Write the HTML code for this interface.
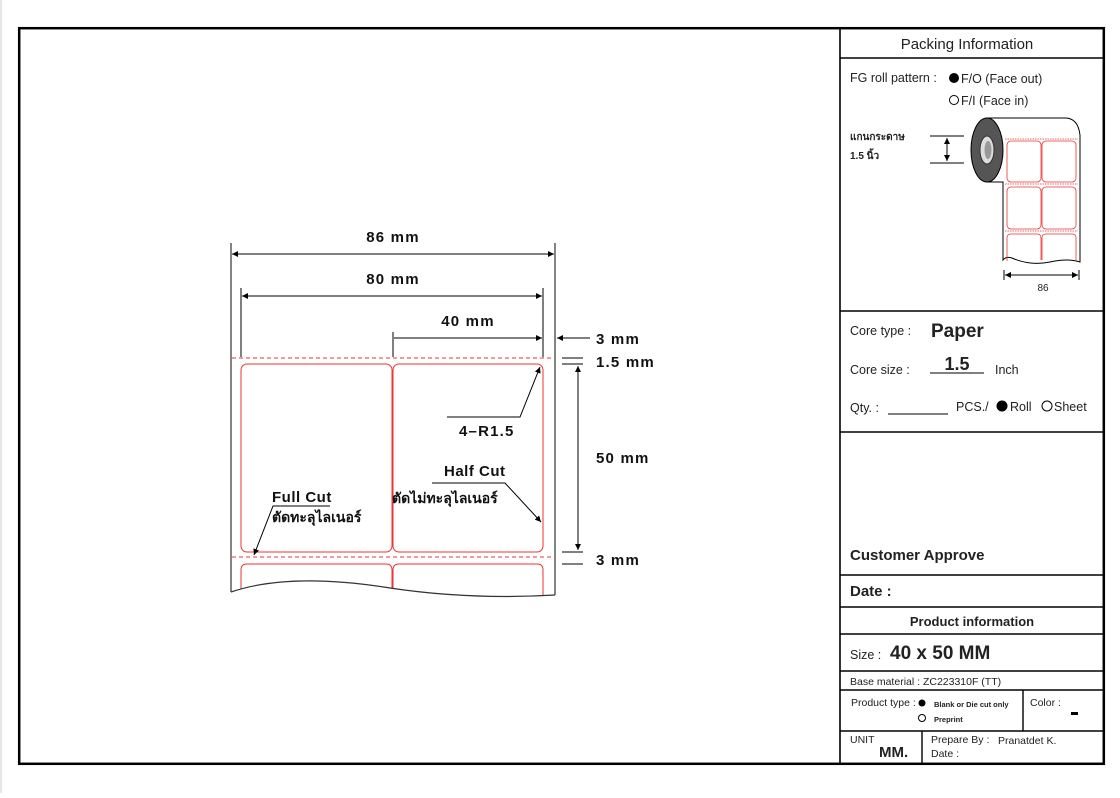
<!DOCTYPE html>
<html><head><meta charset="utf-8"><style>
html,body{margin:0;padding:0;background:#fff;}
body{width:1120px;height:793px;overflow:hidden;position:relative;font-family:"Liberation Sans","Noto Sans CJK SC",sans-serif;}
svg text{font-family:"Liberation Sans","Noto Sans CJK SC",sans-serif;}
</style></head><body>
<svg width="1120" height="793" viewBox="0 0 1120 793" xmlns="http://www.w3.org/2000/svg">
<defs>
<marker id="a" viewBox="0 0 10 10" refX="10" refY="5" markerWidth="8" markerHeight="6" orient="auto-start-reverse" markerUnits="userSpaceOnUse"><path d="M0,0 L10,5 L0,10 z" fill="#000"/></marker>
</defs>
<line x1="1" y1="0" x2="1" y2="793" stroke="#ccc" stroke-width="1"/>
<rect x="19.2" y="28.2" width="1084.6" height="735.6" fill="none" stroke="#000" stroke-width="2.5"/>
<line x1="840" y1="28" x2="840" y2="764" stroke="#000" stroke-width="1.6"/>
<g stroke="#000" stroke-width="1.4">
<line x1="840" y1="58" x2="1104" y2="58"/>
<line x1="840" y1="311" x2="1104" y2="311"/>
<line x1="840" y1="432" x2="1104" y2="432"/>
<line x1="840" y1="575" x2="1104" y2="575"/>
<line x1="840" y1="607" x2="1104" y2="607"/>
<line x1="840" y1="634" x2="1104" y2="634"/>
<line x1="840" y1="671" x2="1104" y2="671"/>
<line x1="840" y1="690" x2="1104" y2="690"/>
<line x1="840" y1="731" x2="1104" y2="731"/>
<line x1="1023" y1="690" x2="1023" y2="731"/>
<line x1="922" y1="731" x2="922" y2="764"/>
</g>
<text x="967" y="49" font-size="15" text-anchor="middle" fill="#222">Packing Information</text>
<text x="850" y="82" font-size="12.5" fill="#222">FG roll pattern :</text>
<circle cx="954" cy="78" r="5" fill="#000"/>
<text x="961" y="83" font-size="12.5" fill="#222">F/O (Face out)</text>
<circle cx="954" cy="100" r="4.5" fill="none" stroke="#000" stroke-width="1"/>
<text x="961" y="105" font-size="12.5" fill="#222">F/I (Face in)</text>
<text x="850" y="140" font-size="10" font-weight="bold" fill="#222">แกนกระดาษ</text>
<text x="850" y="159" font-size="10" font-weight="bold" fill="#222">1.5 นิ้ว</text>
<line x1="930" y1="136" x2="964" y2="136" stroke="#000"/>
<line x1="930" y1="163" x2="964" y2="163" stroke="#000"/>
<line x1="947" y1="138" x2="947" y2="161" stroke="#000" marker-start="url(#a)" marker-end="url(#a)"/>
<path d="M987,118 L1065,118 Q1078,118 1080,135 L1080,262 Q1068,258 1050,262 Q1030,266 1012,258 Q1006,256 1003,260 L1003,182 L987,182 Z" fill="#fff" stroke="#000" stroke-width="1"/>
<ellipse cx="987" cy="150" rx="16" ry="32" fill="#555" stroke="#000"/>
<ellipse cx="987" cy="150" rx="7" ry="14" fill="#ddd" stroke="#333"/>
<ellipse cx="988" cy="150" rx="3.5" ry="9" fill="#999"/>
<g stroke="#e33" fill="none" stroke-width="0.8">
<line x1="1005" y1="139" x2="1078" y2="139" stroke-dasharray="1.5,1"/>
<line x1="1005" y1="184" x2="1078" y2="184" stroke-dasharray="1.5,1"/>
<line x1="1005" y1="231" x2="1078" y2="231" stroke-dasharray="1.5,1"/>
<rect x="1007" y="141" width="34" height="41" rx="4"/>
<rect x="1042" y="141" width="34" height="41" rx="4"/>
<rect x="1007" y="187" width="34" height="42" rx="4"/>
<rect x="1042" y="187" width="34" height="42" rx="4"/>
<path d="M1007,261 L1007,238 Q1007,234 1011,234 L1037,234 Q1041,234 1041,238 L1041,260"/>
<path d="M1042,260 L1042,238 Q1042,234 1046,234 L1072,234 Q1076,234 1076,238 L1076,261"/>
</g>
<line x1="1004" y1="270" x2="1004" y2="280" stroke="#000"/>
<line x1="1079" y1="270" x2="1079" y2="280" stroke="#000"/>
<line x1="1005" y1="275" x2="1078" y2="275" stroke="#000" marker-start="url(#a)" marker-end="url(#a)"/>
<text x="1043" y="291" font-size="10" text-anchor="middle" fill="#222">86</text>

<text x="850" y="335" font-size="12.5" fill="#222">Core type :</text>
<text x="931" y="337" font-size="19" font-weight="bold" fill="#222">Paper</text>
<text x="850" y="374" font-size="12.5" fill="#222">Core size :</text>
<text x="957" y="370" font-size="18" font-weight="bold" text-anchor="middle" fill="#222">1.5</text>
<line x1="930" y1="373" x2="984" y2="373" stroke="#000"/>
<text x="995" y="374" font-size="12.5" fill="#222">Inch</text>
<text x="850" y="412" font-size="12.5" fill="#222">Qty. :</text>
<line x1="888" y1="414" x2="948" y2="414" stroke="#000"/>
<text x="956" y="411" font-size="12.5" fill="#222">PCS./</text>
<circle cx="1002" cy="406" r="5.5" fill="#000"/>
<text x="1010" y="411" font-size="12.5" fill="#222">Roll</text>
<circle cx="1047" cy="406" r="5" fill="none" stroke="#000"/>
<text x="1054" y="411" font-size="12.5" fill="#222">Sheet</text>

<text x="850" y="560" font-size="15" font-weight="bold" fill="#222">Customer Approve</text>
<text x="850" y="596" font-size="15" font-weight="bold" fill="#222">Date :</text>
<text x="972" y="626" font-size="13" font-weight="bold" text-anchor="middle" fill="#222">Product information</text>
<text x="850" y="659" font-size="12.5" fill="#222">Size :</text>
<text x="890" y="659" font-size="19" font-weight="bold" fill="#222">40 x 50 MM</text>
<text x="850" y="685" font-size="10.5" fill="#222">Base material : ZC223310F (TT)</text>
<text x="851" y="706" font-size="10.5" fill="#222">Product type :</text>
<circle cx="922" cy="703" r="3.5" fill="#000"/>
<text x="934" y="707" font-size="7.5" font-weight="bold" fill="#222">Blank or Die cut only</text>
<circle cx="922" cy="718" r="3.5" fill="none" stroke="#000"/>
<text x="934" y="722" font-size="7.5" font-weight="bold" fill="#222">Preprint</text>
<text x="1030" y="706" font-size="10.5" fill="#222">Color :</text>
<rect x="1071" y="712" width="7" height="3" fill="#000"/>
<text x="850" y="743" font-size="10.5" fill="#222">UNIT</text>
<text x="879" y="757" font-size="15" font-weight="bold" fill="#222">MM.</text>
<text x="931" y="743" font-size="10.5" fill="#222">Prepare By :</text>
<text x="998" y="744" font-size="10.5" fill="#222">Pranatdet K.</text>
<text x="931" y="757" font-size="10.5" fill="#222">Date :</text>

<g stroke="#666" stroke-width="1.6">
<line x1="231" y1="243" x2="231" y2="592"/>
<line x1="555" y1="243" x2="555" y2="595"/>
</g>
<g stroke="#000" stroke-width="1">
<line x1="241" y1="288" x2="241" y2="357"/>
<line x1="543" y1="288" x2="543" y2="357"/>
<line x1="393" y1="332" x2="393" y2="357"/>
<line x1="232" y1="254" x2="554" y2="254" marker-start="url(#a)" marker-end="url(#a)"/>
<line x1="242" y1="296" x2="542" y2="296" marker-start="url(#a)" marker-end="url(#a)"/>
<line x1="394" y1="338" x2="542" y2="338" marker-end="url(#a)"/>
<line x1="590" y1="338" x2="557" y2="338" marker-end="url(#a)"/>
<line x1="562" y1="358" x2="583" y2="358"/>
<line x1="562" y1="364" x2="583" y2="364"/>
<line x1="562" y1="552" x2="583" y2="552"/>
<line x1="562" y1="564" x2="583" y2="564"/>
<line x1="578" y1="366" x2="578" y2="550" marker-start="url(#a)" marker-end="url(#a)"/>
</g>
<g font-size="15" font-weight="bold" fill="#111" letter-spacing="1.2">
<text x="393" y="242" text-anchor="middle">86 mm</text>
<text x="393" y="284" text-anchor="middle">80 mm</text>
<text x="468" y="326" text-anchor="middle">40 mm</text>
<text x="596" y="344">3 mm</text>
<text x="596" y="367">1.5 mm</text>
<text x="596" y="463">50 mm</text>
<text x="596" y="565">3 mm</text>
<text x="459" y="436">4–R1.5</text>
</g>
<g font-size="15" font-weight="bold" fill="#111" letter-spacing="0.5">
<text x="444" y="476">Half Cut</text>
<text x="272" y="502">Full Cut</text>
</g>
<g stroke="#e33" fill="none" stroke-width="1">
<line x1="232" y1="358" x2="554" y2="358" stroke-dasharray="4,3"/>
<line x1="232" y1="557" x2="554" y2="557" stroke-dasharray="4,3"/>
<rect x="241" y="364" width="151" height="188" rx="6"/>
<rect x="393" y="364" width="150" height="188" rx="6"/>
<path d="M241,590 L241,570 Q241,564 247,564 L386,564 Q392,564 392,570 L392,592"/>
<path d="M393,592 L393,570 Q393,564 399,564 L537,564 Q543,564 543,570 L543,595"/>
</g>
<path d="M231,592 Q290,572 390,588 Q470,600 555,595 L555,605 L231,605 Z" fill="#fff"/>
<path d="M231,592 Q290,572 390,588 Q470,600 555,595" fill="none" stroke="#333" stroke-width="1.2"/>
<g stroke="#000" stroke-width="1" fill="none">
<polyline points="447,417 520,417 540,367" marker-end="url(#a)"/>
<polyline points="432,483 505,483 541,522" marker-end="url(#a)"/>
<polyline points="330,506 273,506 254,555" marker-end="url(#a)"/>
</g>
<g font-size="14" font-weight="bold" fill="#111">
<text x="392" y="503">ตัดไม่ทะลุไลเนอร์</text>
<text x="272" y="522">ตัดทะลุไลเนอร์</text>
</g>
</svg>
</body></html>
